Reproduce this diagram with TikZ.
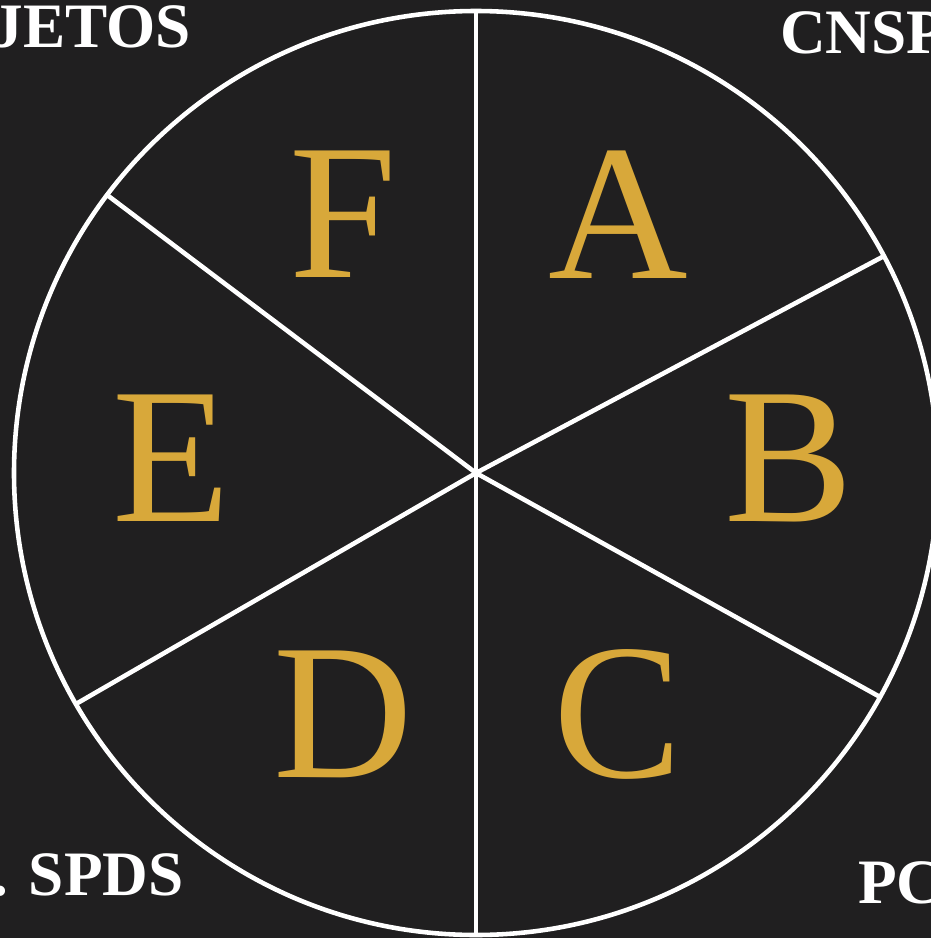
\documentclass[tikz,border=0pt]{standalone}
\usepackage{fontspec}
\setmainfont{Liberation Serif}
\usetikzlibrary{calc}
\definecolor{fondo}{RGB}{32,31,32}
\definecolor{oro}{RGB}{216,168,58}
\begin{document}
\begin{tikzpicture}[line width=1.3pt,
  letra/.style={text=oro,font=\fontsize{55}{58}\selectfont,inner sep=0pt,anchor=base},
  esquina/.style={text=white,font=\fontsize{18}{20}\selectfont\bfseries,inner sep=0pt}]
  % fondo y recorte
  \fill[fondo] (0,0) rectangle (9.31,-9.38);
  \useasboundingbox (0,0) rectangle (9.31,-9.38);
  \clip (0,0) rectangle (9.31,-9.38);
  % circulo y radios
  \coordinate (c) at (4.76,-4.73);
  \draw[white] (c) circle (4.62);
  \foreach \ang/\nom in {90/ra,28/rb,-29/rc,-90/rd,210/re,143/rf}{
    \coordinate (\nom) at ($(c)+(\ang:4.62)$);
    \draw[white] (c) -- (\nom);
  }
  % letras
  \node[letra] (A) at (6.18,-2.78) {A};
  \node[letra] (B) at (7.89,-5.21) {B};
  \node[letra] (C) at (6.18,-7.77) {C};
  \node[letra] (D) at (3.43,-7.77) {D};
  \node[letra] (E) at (1.72,-5.21) {E};
  \node[letra] (F) at (3.43,-2.77) {F};
  % textos de las esquinas
  \node[esquina,anchor=base east] (tl) at (1.93,-0.48) {JETOS};
  \node[esquina,anchor=base west] (tr) at (7.78,-0.54) {CNSP};
  \node[esquina,anchor=base east] (bl) at (1.86,-8.95) {. SPDS};
  \node[esquina,anchor=base west] (br) at (8.56,-9.03) {PC};
\end{tikzpicture}
\end{document}
